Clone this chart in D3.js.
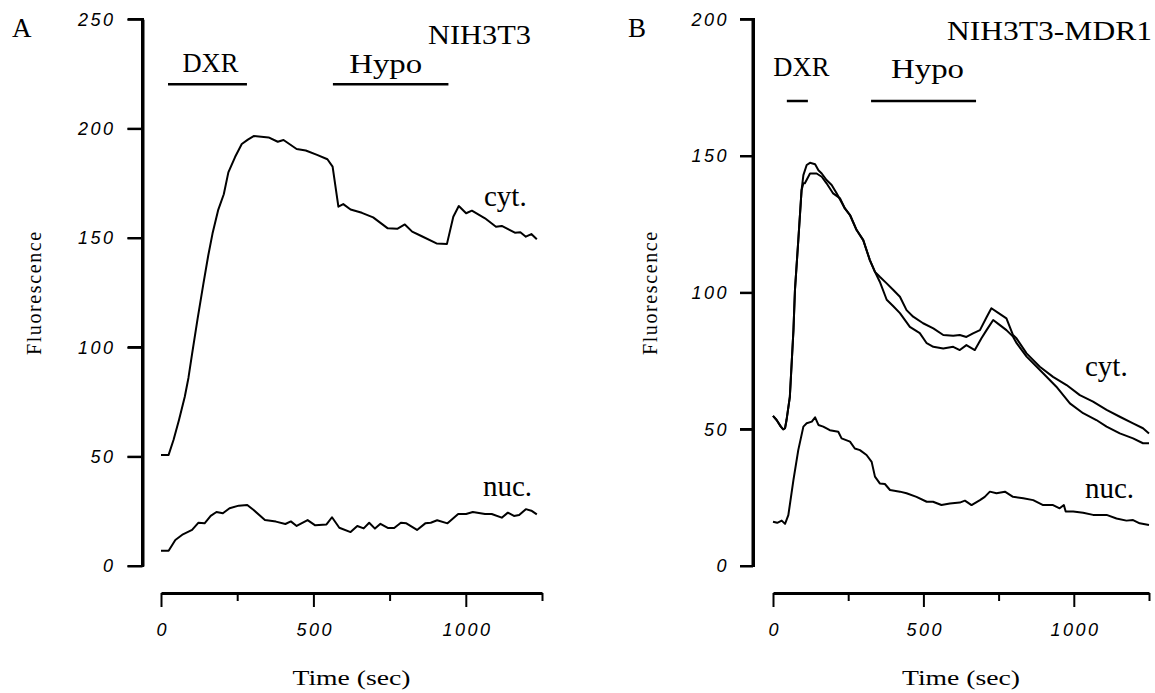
<!DOCTYPE html>
<html><head><meta charset="utf-8">
<script src="https://cdn.jsdelivr.net/npm/d3@7"></script>
<style>body{margin:0;background:#fff;position:relative}svg{display:block}.spine{position:absolute;background:#000}</style>
</head><body>
<svg id="c" width="1155" height="693"></svg>
<script>
// ---------- DATA ----------
// Panel A (NIH3T3)
const timeA_cyt = [0,25,41,59,78,90,102,120,139,155,169,188,206,221,243,265,285,304,353,383,402,445,475,512,546,563,582,598,622,659,696,744,775,800,824,854,904,938,959,977,1001,1020,1063,1099,1118,1161,1179,1197,1215,1233];
const valA_cyt  = [50.8,50.8,57.6,66.8,77.4,86,97,113,129,142,152,163,170,180,187,193,195,196.6,196,194,194.8,190.7,190,188,186,182.6,164.3,165.5,163,161.5,159.4,154.4,154.2,156.2,152.9,150.9,147.5,147.2,159.7,164.6,161.3,162.5,159,155.1,155.5,152.4,152.6,150.6,151.8,149.4];
const timeA_nuc = [0,25,47,72,102,123,143,163,182,203,225,255,283,304,341,377,408,426,445,481,506,543,561,585,622,644,665,683,702,720,744,765,787,805,840,867,885,906,940,975,1001,1023,1063,1085,1118,1138,1158,1175,1197,1215,1233];
const valA_nuc  = [7,7,11.9,14.5,16.5,19.8,19.5,22.9,24.7,24.1,26.4,27.6,27.9,25.6,21,20.3,19.2,20.4,18.3,21,18.6,19,22.3,17.5,15.5,18.3,17.2,19.8,17.1,19.3,17.4,17.4,19.8,19.5,16.5,19.5,19.8,20.9,19.5,23.8,23.8,24.7,23.8,23.8,22.1,24.4,22.9,23.3,26,25.3,23.6];

// Panel B (NIH3T3-MDR1)
const timeB_cyt1 = [0,12,26,34,40,45,56,68,73,84,95,101,112,123,140,151,162,178,195,212,239,256,278,300,322,339,355,378,400,422,444,466,499,533,566,599,621,643,665,688,710,726,750,776,798,810,843,887,931,976,1020,1064,1109,1153,1197,1230,1250];
const valB_cyt1  = [54.9,53.4,51,50,50.4,53.4,61.9,86.3,101,119,137.5,143,146.7,147.5,147,144.8,143.6,141.2,139.4,136.3,130.8,128.4,122.9,119.2,111.9,107.6,105.8,103.4,101,98.5,93.6,91.2,88.8,86.9,84.5,84.2,84.5,83.8,85.1,86.3,91,94.3,92.5,90.6,84.5,83.2,77.8,72.9,69.2,66.2,62.5,60.1,57.1,54.6,52.2,50.4,48.5];
const timeB_cyt2 = [0,12,26,34,40,45,56,68,73,84,95,101,106,123,145,162,178,200,223,239,256,278,300,322,339,355,378,400,422,455,488,511,533,566,599,621,643,671,693,710,732,750,776,798,810,843,898,942,987,1031,1075,1109,1153,1197,1230,1250];
const valB_cyt2  = [54.9,53.4,51,50,50.4,53.4,61.9,86.3,101,119,137.5,140,140,143.6,143.6,142.4,140,136.3,134.5,130.8,128.4,122.9,119.2,111.9,107.6,104,97.4,95,92.5,87.5,85.2,81.5,80.2,79.6,80.2,79,80.8,79,83.3,86.3,90,88.5,86.3,83.9,81.5,76.6,70.5,65.6,59.5,55.9,53.4,51,48.5,46.7,44.9,44.9];
const timeB_nuc = [0,14,29,40,51,68,84,101,112,129,140,151,167,189,217,228,256,272,289,311,328,339,355,372,389,422,444,477,511,532,560,588,621,638,660,688,704,721,743,771,798,832,865,898,931,953,967,973,998,1031,1064,1109,1142,1175,1197,1219,1250];
const valB_nuc  = [16.2,15.8,16.6,15.4,18.6,31.5,42.4,51,52.2,52.8,54.4,51.6,51,49.7,49.1,46.7,45.5,43,42.4,40.6,38.1,32.7,30.2,30,27.8,27.2,26.6,25.3,23.5,23.5,22.3,22.9,23.2,23.9,22.3,24.1,25.3,27.2,26.6,27.2,25.3,24.8,24.1,22.3,22.3,21.1,22.3,19.9,19.9,19.5,18.7,18.7,17.4,16.6,16.8,15.6,15.0];

// Treatment periods (sec)
const eventLabels = ["DXR", "Hypo"];
const eventStartA = [23, 564];
const eventEndA   = [282, 943];
const eventStartB = [46, 326];
const eventEndB   = [116, 675];

// Axis ticks
const yTicksA = [0, 50, 100, 150, 200, 250];
const yTicksB = [0, 50, 100, 150, 200];
const xMajorTicks = [0, 500, 1000];
const xMinorTicks = [250, 750, 1250];
const xDomain = [0, 1250];

// ---------- DRAW ----------
const svg = d3.select("#c");
svg.append("rect").attr("width",1155).attr("height",693).attr("fill","#fff");

const SERIF = "'Liberation Serif', 'Times New Roman', serif";
const SANS = "'Liberation Sans', Arial, sans-serif";

function styleTickText(sel) {
  sel.attr("font-family", SANS).attr("font-style", "italic").attr("font-size", 18)
    .attr("letter-spacing", "2.5px").attr("fill", "#000");
}

function monoText(g, x, y, txt, size, len, anchor) {
  return g.append("text").attr("x", x).attr("y", y).attr("text-anchor", anchor || "start")
    .attr("font-family", SERIF).attr("font-size", size).attr("fill", "#000")
    .attr("textLength", len).attr("lengthAdjust", "spacingAndGlyphs").text(txt);
}

function drawPanel(p) {
  const g = svg.append("g");
  const x = d3.scaleLinear().domain(xDomain).range(p.xRange);
  const y = d3.scaleLinear().domain(p.yDomain).range(p.yRange);

  // Y axis: d3 axis (labels + ticks + spine)
  const ya = g.append("g").attr("transform", `translate(${p.yAxisX},0)`)
    .call(d3.axisLeft(y).tickValues(p.yTicks).tickSize(p.tickLen).tickSizeOuter(0)
      .tickPadding(p.tickPad).tickFormat(d3.format("d")));
  ya.select(".domain").attr("stroke", "#000").attr("stroke-width", 3);
  ya.selectAll(".tick line").attr("stroke", "#000").attr("stroke-width", 2);
  styleTickText(ya.selectAll(".tick text"));

  // Y spine also as a data-style path (x value left of zero mapped through the scale)
  const xSpine = x.invert(p.yAxisX);
  const line = d3.line().x(d => x(d[0])).y(d => y(d[1]));
  g.append("path").datum([[xSpine, p.yDomain[0]], [xSpine, p.yDomain[1]]]).attr("d", line)
    .attr("fill", "none").attr("stroke", "#000").attr("stroke-width", 3);
  const xTickStart = x.invert(p.yAxisX - p.tickLen);
  p.yTicks.forEach(t => {
    g.append("path").datum([[xTickStart, t], [xSpine, t]]).attr("d", line)
      .attr("fill", "none").attr("stroke", "#000").attr("stroke-width", 2);
  });

  // X axis (major ticks with labels, minor ticks without)
  const xa = g.append("g").attr("transform", `translate(0,${p.xAxisY})`)
    .call(d3.axisBottom(x).tickValues(xMajorTicks).tickSize(14).tickSizeOuter(0)
      .tickPadding(16).tickFormat(d3.format("d")));
  xa.select(".domain").attr("stroke", "#000").attr("stroke-width", 3);
  xa.selectAll(".tick line").attr("stroke", "#000").attr("stroke-width", 2);
  styleTickText(xa.selectAll(".tick text"));
  xa.selectAll(".tick text").attr("dx", "1.25px");
  const xm = g.append("g").attr("transform", `translate(0,${p.xAxisY})`)
    .call(d3.axisBottom(x).tickValues(xMinorTicks).tickSize(8).tickSizeOuter(0).tickFormat(""));
  xm.select(".domain").remove();
  xm.selectAll(".tick line").attr("stroke", "#000").attr("stroke-width", 2);

  // Axis titles
  monoText(g, (p.xRange[0] + p.xRange[1]) / 2, 685, "Time (sec)", 20, 118, "middle");
  g.append("text").attr("transform", `translate(${p.yTitleX},${(p.yRange[0] + p.yRange[1]) / 2}) rotate(-90)`)
    .attr("text-anchor", "middle").attr("font-family", SERIF).attr("font-size", 20)
    .attr("letter-spacing", "1.6px").text("Fluorescence");

  // Panel letter and title
  g.append("text").attr("x", p.letterX).attr("y", 37).attr("font-family", SERIF).attr("font-size", 27).text(p.letter);
  monoText(g, p.titleRight, p.titleY, p.title, 27, p.titleLen, "end");

  // Treatment bars
  p.evStart.forEach((s, i) => {
    const e = p.evEnd[i];
    g.append("line").attr("x1", x(s)).attr("x2", x(e)).attr("y1", p.barY).attr("y2", p.barY)
      .attr("stroke", "#000").attr("stroke-width", 2.5);
    monoText(g, x((s + e) / 2) + p.labelDx[i], p.labelY[i], eventLabels[i], 27, p.labelLen[i], "middle");
  });

  // Data lines
  p.series.forEach(s => {
    g.append("path").datum(d3.zip(s.t, s.v)).attr("d", line)
      .attr("fill", "none").attr("stroke", "#000").attr("stroke-width", 2).attr("stroke-linejoin", "round");
  });

  // Curve labels
  p.curveLabels.forEach(c => {
    g.append("text").attr("x", c.x).attr("y", c.y).attr("font-family", SERIF).attr("font-size", 29).text(c.text);
  });

  // HTML overlay for the y spine and ticks (positions from the scale)
  const body = d3.select("body");
  const yTop = y(p.yDomain[1]), yBot = y(p.yDomain[0]);
  body.append("div").attr("class", "spine")
    .style("left", (p.yAxisX - 1.5) + "px").style("top", (yTop - 1) + "px")
    .style("width", "3px").style("height", (yBot - yTop + 2) + "px");
  p.yTicks.forEach(t => {
    body.append("div").attr("class", "spine")
      .style("left", (p.yAxisX - p.tickLen) + "px").style("top", (y(t) - 1) + "px")
      .style("width", p.tickLen + "px").style("height", "2px");
  });
}

drawPanel({
  letter: "A", letterX: 12, title: "NIH3T3", titleRight: 531, titleY: 44, titleLen: 103,
  xRange: [161, 542], yRange: [566, 19.3], yDomain: [0, 250], yTicks: yTicksA,
  yAxisX: 142.5, tickLen: 15, tickPad: 12, xAxisY: 593, yTitleX: 41,
  evStart: eventStartA, evEnd: eventEndA, barY: 84.3, labelY: [72, 73], labelDx: [3, -5], labelLen: [56, 73],
  series: [{t: timeA_cyt, v: valA_cyt}, {t: timeA_nuc, v: valA_nuc}],
  curveLabels: [{text: "cyt.", x: 484, y: 206}, {text: "nuc.", x: 483, y: 496}]
});

drawPanel({
  letter: "B", letterX: 628, title: "NIH3T3-MDR1", titleRight: 1152, titleY: 40, titleLen: 205,
  xRange: [773, 1149], yRange: [566, 19.3], yDomain: [0, 200], yTicks: yTicksB,
  yAxisX: 753, tickLen: 13, tickPad: 11, xAxisY: 593, yTitleX: 657,
  evStart: eventStartB, evEnd: eventEndB, barY: 101, labelY: [76, 78], labelDx: [4, 4], labelLen: [56, 73],
  series: [{t: timeB_cyt1, v: valB_cyt1}, {t: timeB_cyt2, v: valB_cyt2}, {t: timeB_nuc, v: valB_nuc}],
  curveLabels: [{text: "cyt.", x: 1085, y: 376}, {text: "nuc.", x: 1085, y: 498}]
});
</script>
</body></html>
